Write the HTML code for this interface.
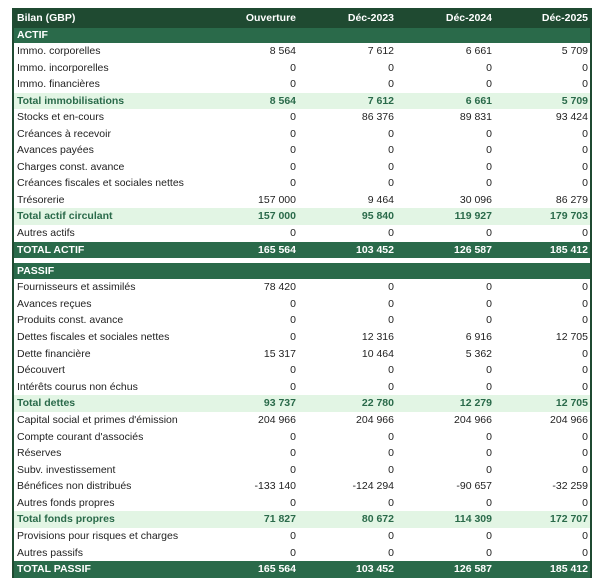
<!DOCTYPE html>
<html><head><meta charset="utf-8"><style>
body{margin:0;background:#fff;width:600px;height:585px;overflow:hidden;font-family:"Liberation Sans",sans-serif;font-size:10.5px;color:#222}
table{position:absolute;left:12px;top:8px;width:578px;border-collapse:collapse;table-layout:fixed}
td{padding:0 2px 0 3px;white-space:nowrap;line-height:1;text-align:right}
td:first-child{text-align:left}
tr.d td{height:16.55px}
tr.p td{height:16.6px}
tr.h td{height:20px;background:#1f4a31;color:#fff;font-weight:bold}
tr.s td{background:#2a6a4a;color:#fff;font-weight:bold}
tr.t td{background:#e2f5e4;color:#2a6a4a;font-weight:bold}
tr.T td{background:#2a6a4a;color:#fff;font-weight:bold}
tr.g td{height:5px;background:#fff}
tr td:first-child{border-left:2px solid #1f4a31}
tr td:last-child{border-right:2px solid #1f4a31}
</style></head><body>
<table>
<colgroup><col style="width:185px"><col style="width:100px"><col style="width:98px"><col style="width:98px"><col style="width:97px"></colgroup>
<tr class="h"><td>Bilan (GBP)</td><td>Ouverture</td><td>Déc-2023</td><td>Déc-2024</td><td>Déc-2025</td></tr>
<tr class="s" style="height:15px"><td style="height:15px">ACTIF</td><td></td><td></td><td></td><td></td></tr>
<tr class="d"><td>Immo. corporelles</td><td>8 564</td><td>7 612</td><td>6 661</td><td>5 709</td></tr>
<tr class="d"><td>Immo. incorporelles</td><td>0</td><td>0</td><td>0</td><td>0</td></tr>
<tr class="d"><td>Immo. financières</td><td>0</td><td>0</td><td>0</td><td>0</td></tr>
<tr class="d t"><td>Total immobilisations</td><td>8 564</td><td>7 612</td><td>6 661</td><td>5 709</td></tr>
<tr class="d"><td>Stocks et en-cours</td><td>0</td><td>86 376</td><td>89 831</td><td>93 424</td></tr>
<tr class="d"><td>Créances à recevoir</td><td>0</td><td>0</td><td>0</td><td>0</td></tr>
<tr class="d"><td>Avances payées</td><td>0</td><td>0</td><td>0</td><td>0</td></tr>
<tr class="d"><td>Charges const. avance</td><td>0</td><td>0</td><td>0</td><td>0</td></tr>
<tr class="d"><td>Créances fiscales et sociales nettes</td><td>0</td><td>0</td><td>0</td><td>0</td></tr>
<tr class="d"><td>Trésorerie</td><td>157 000</td><td>9 464</td><td>30 096</td><td>86 279</td></tr>
<tr class="d t"><td>Total actif circulant</td><td>157 000</td><td>95 840</td><td>119 927</td><td>179 703</td></tr>
<tr class="d"><td>Autres actifs</td><td>0</td><td>0</td><td>0</td><td>0</td></tr>
<tr class="d T"><td>TOTAL ACTIF</td><td>165 564</td><td>103 452</td><td>126 587</td><td>185 412</td></tr>
<tr class="g"><td></td><td></td><td></td><td></td><td></td></tr>
<tr class="s"><td style="height:16px">PASSIF</td><td></td><td></td><td></td><td></td></tr>
<tr class="p"><td>Fournisseurs et assimilés</td><td>78 420</td><td>0</td><td>0</td><td>0</td></tr>
<tr class="p"><td>Avances reçues</td><td>0</td><td>0</td><td>0</td><td>0</td></tr>
<tr class="p"><td>Produits const. avance</td><td>0</td><td>0</td><td>0</td><td>0</td></tr>
<tr class="p"><td>Dettes fiscales et sociales nettes</td><td>0</td><td>12 316</td><td>6 916</td><td>12 705</td></tr>
<tr class="p"><td>Dette financière</td><td>15 317</td><td>10 464</td><td>5 362</td><td>0</td></tr>
<tr class="p"><td>Découvert</td><td>0</td><td>0</td><td>0</td><td>0</td></tr>
<tr class="p"><td>Intérêts courus non échus</td><td>0</td><td>0</td><td>0</td><td>0</td></tr>
<tr class="p t"><td>Total dettes</td><td>93 737</td><td>22 780</td><td>12 279</td><td>12 705</td></tr>
<tr class="p"><td>Capital social et primes d'émission</td><td>204 966</td><td>204 966</td><td>204 966</td><td>204 966</td></tr>
<tr class="p"><td>Compte courant d'associés</td><td>0</td><td>0</td><td>0</td><td>0</td></tr>
<tr class="p"><td>Réserves</td><td>0</td><td>0</td><td>0</td><td>0</td></tr>
<tr class="p"><td>Subv. investissement</td><td>0</td><td>0</td><td>0</td><td>0</td></tr>
<tr class="p"><td>Bénéfices non distribués</td><td>-133 140</td><td>-124 294</td><td>-90 657</td><td>-32 259</td></tr>
<tr class="p"><td>Autres fonds propres</td><td>0</td><td>0</td><td>0</td><td>0</td></tr>
<tr class="p t"><td>Total fonds propres</td><td>71 827</td><td>80 672</td><td>114 309</td><td>172 707</td></tr>
<tr class="p"><td>Provisions pour risques et charges</td><td>0</td><td>0</td><td>0</td><td>0</td></tr>
<tr class="p"><td>Autres passifs</td><td>0</td><td>0</td><td>0</td><td>0</td></tr>
<tr class="p T"><td>TOTAL PASSIF</td><td>165 564</td><td>103 452</td><td>126 587</td><td>185 412</td></tr>
</table>
</body></html>
